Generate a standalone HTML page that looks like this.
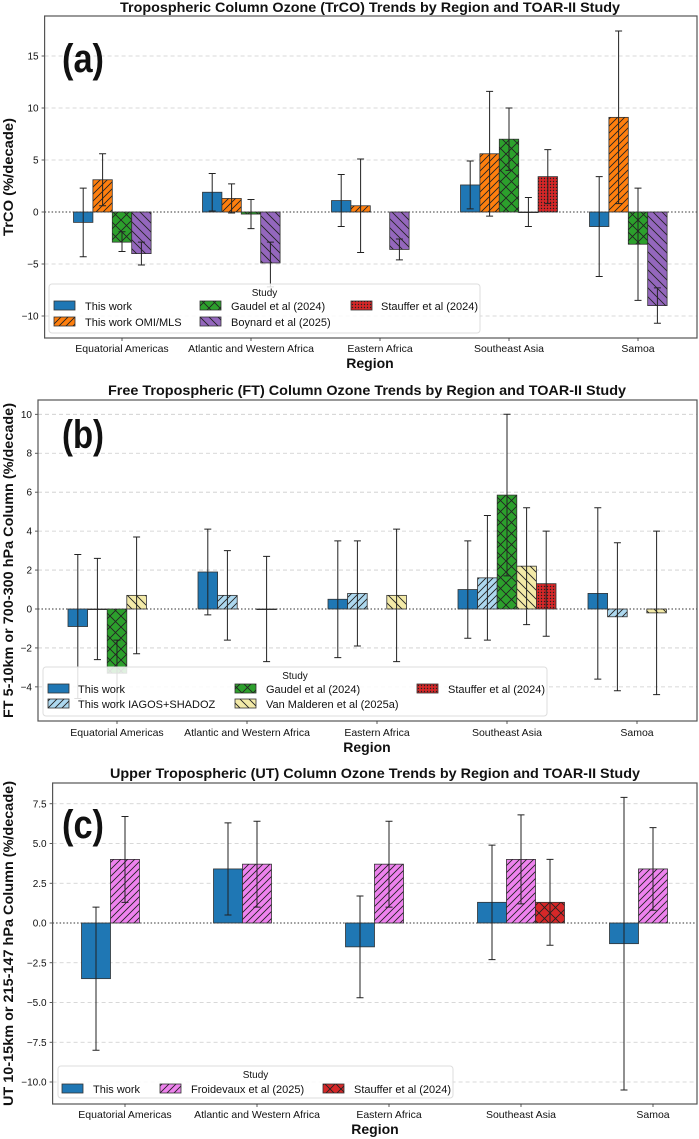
<!DOCTYPE html>
<html><head><meta charset="utf-8"><style>
html,body{margin:0;padding:0;background:#fff;}
svg{display:block;font-family:"Liberation Sans",sans-serif;}
</style></head><body>
<svg id="fig" width="699" height="1139" viewBox="0 0 699 1139" xmlns="http://www.w3.org/2000/svg">
<defs>
<pattern id="h-fwd" patternUnits="userSpaceOnUse" width="7" height="7"><path d="M-1,8 L8,-1 M-1,1 L1,-1 M6,8 L8,6" stroke="#222" stroke-width="0.9"/></pattern>
<pattern id="h-back" patternUnits="userSpaceOnUse" width="9" height="9"><path d="M-1,-1 L10,10 M-1,8 L1,10 M8,-1 L10,1" stroke="#222" stroke-width="0.9"/></pattern>
<pattern id="h-cross" patternUnits="userSpaceOnUse" width="11" height="11"><path d="M-1,-1 L12,12 M-1,12 L12,-1" stroke="#222" stroke-width="0.9"/></pattern>
<pattern id="h-dots" patternUnits="userSpaceOnUse" width="3" height="3"><circle cx="1.5" cy="1.5" r="0.7" fill="#222"/></pattern>
</defs>
</svg>
<script>
// ---------- shared data ----------
const regions = ["Equatorial Americas","Atlantic and Western Africa","Eastern Africa","Southeast Asia","Samoa"];

// Panel (a) TrCO
const aSeries = ["This work","This work OMI/MLS","Gaudel et al (2024)","Boynard et al (2025)","Stauffer et al (2024)"];
const aVals = [
  [-1.0, 1.9, 1.1, 2.6, -1.4],
  [3.1, 1.3, 0.6, 5.6, 9.1],
  [-2.9, -0.2, null, 7.0, -3.1],
  [-4.0, -4.9, -3.6, 0, -9.0],
  [null, null, null, 3.4, null]
];
const aLow = [
  [-4.3, 0.1, -1.4, 0.3, -6.2],
  [0.6, -0.1, -3.9, -0.4, 0.8],
  [-3.8, -1.6, null, 4.0, -8.5],
  [-5.1, -7.2, -4.6, -1.4, -10.7],
  [null, null, null, 0.8, null]
];
const aHigh = [
  [2.3, 3.7, 3.6, 4.9, 3.4],
  [5.6, 2.7, 5.1, 11.6, 17.4],
  [-1.9, 1.2, null, 10.0, 2.3],
  [-2.9, -2.9, -2.6, 1.4, -7.3],
  [null, null, null, 6.0, null]
];
const aTicks = [-10, -5, 0, 5, 10, 15];

// Panel (b) FT
const bSeries = ["This work","This work IAGOS+SHADOZ","Gaudel et al (2024)","Van Malderen et al (2025a)","Stauffer et al (2024)"];
const bVals = [
  [-0.9, 1.9, 0.5, 1.0, 0.8],
  [0, 0.7, 0.8, 1.6, -0.4],
  [-3.3, null, null, 5.85, null],
  [0.7, 0, 0.7, 2.2, -0.2],
  [null, null, null, 1.3, null]
];
const bLow = [
  [-4.6, -0.3, -2.5, -1.5, -3.6],
  [-2.6, -1.6, -1.9, -1.6, -4.2],
  [-4.8, null, null, 1.7, null],
  [-2.3, -2.7, -2.7, -0.8, -4.4],
  [null, null, null, -1.4, null]
];
const bHigh = [
  [2.8, 4.1, 3.5, 3.5, 5.2],
  [2.6, 3.0, 3.5, 4.8, 3.4],
  [-1.6, null, null, 10.0, null],
  [3.7, 2.7, 4.1, 5.2, 4.0],
  [null, null, null, 4.0, null]
];
const bTicks = [-4, -2, 0, 2, 4, 6, 8, 10];

// Panel (c) UT
const cSeries = ["This work","Froidevaux et al (2025)","Stauffer et al (2024)"];
const cVals = [
  [-3.5, 3.4, -1.5, 1.3, -1.3],
  [4.0, 3.7, 3.7, 4.0, 3.4],
  [null, null, null, 1.3, null]
];
const cLow = [
  [-8.0, 0.5, -4.7, -2.3, -10.5],
  [1.3, 1.0, 1.0, 1.2, 0.8],
  [null, null, null, -1.4, null]
];
const cHigh = [
  [1.0, 6.3, 1.7, 4.9, 7.9],
  [6.7, 6.4, 6.4, 6.8, 6.0],
  [null, null, null, 4.0, null]
];
const cTicks = [-10.0, -7.5, -5.0, -2.5, 0.0, 2.5, 5.0, 7.5];

// ---------- drawing ----------
const NS = "http://www.w3.org/2000/svg";
const svg = document.getElementById("fig");
function mk(tag, attrs, parent){
  const e = document.createElementNS(NS, tag);
  for (const k in attrs) e.setAttribute(k, attrs[k]);
  (parent||svg).appendChild(e);
  return e;
}
function txt(parent, x, y, s, size, opts){
  opts = opts||{};
  const t = mk("text", {x:x, y:y, "font-size":size, fill:"#111", "text-anchor":opts.anchor||"middle"}, parent);
  if (opts.bold) t.setAttribute("font-weight","bold");
  if (opts.len){ t.setAttribute("textLength", opts.len); t.setAttribute("lengthAdjust","spacingAndGlyphs"); }
  if (opts.transform) t.setAttribute("transform", opts.transform);
  t.textContent = s;
  return t;
}

function drawPanel(P){
  const g = mk("g", {});
  
  
  const y = v => P.y0 - v * P.ppu;
  const xc = i => P.c0 + i * P.step;
  const tt = txt(g, P.titleX, P.titleY, P.title, 14, {bold:true, len:P.titleLen});
  
  
  P.ticks.forEach(t => {
    if (t !== 0){
      const gl = mk("line", {x1:P.fx0, x2:P.fx1, y1:y(t), y2:y(t), stroke:"#ccc", "stroke-width":0.8, "stroke-dasharray":"4,3"}, g);
      
      
    }
    const tl = txt(g, P.fx0 - 6, y(t) + 3.5, P.fmt(t), 10, {anchor:"end"});
    
    
    mk("line", {x1:P.fx0-3, x2:P.fx0, y1:y(t), y2:y(t), stroke:"#333", "stroke-width":0.8}, g);
  });
  const ns = P.vals.length;
  for (let s = 0; s < ns; s++){
    for (let r = 0; r < regions.length; r++){
      const v = P.vals[s][r];
      if (v === null) continue;
      const cx = xc(r) + (s - P.mid) * P.bw;
      const x0 = cx - P.bw/2;
      const top = Math.min(y(v), y(0)), h = Math.abs(y(v) - y(0));
      const rect = mk("rect", {x:x0, y:top, width:P.bw, height:Math.max(h,0.6), fill:P.colors[s], stroke:"#333", "stroke-width":0.8}, g);
      
      
      if (P.hatch[s]) mk("rect", {x:x0, y:top, width:P.bw, height:Math.max(h,0.6), fill:"url(#"+P.hatch[s]+")", stroke:"none"}, g);
    }
  }
  const zl = mk("line", {x1:P.fx0, x2:P.fx1, y1:y(0), y2:y(0), stroke:"#333", "stroke-width":1, "stroke-dasharray":"1.5,2"}, g);
  
  
  for (let s = 0; s < ns; s++){
    for (let r = 0; r < regions.length; r++){
      if (P.vals[s][r] === null) continue;
      const cx = xc(r) + (s - P.mid) * P.bw;
      const lo = y(P.low[s][r]), hi = y(P.high[s][r]);
      const eb = mk("path", {d:`M${cx},${lo}V${hi}M${cx-3.5},${lo}H${cx+3.5}M${cx-3.5},${hi}H${cx+3.5}`, stroke:"#222", "stroke-width":1, fill:"none"}, g);
      
      
    }
  }
  const pl = txt(g, 62, P.letterY, P.letter, 40, {bold:true, anchor:"start", len:42});
  
  
  const lg = mk("g", {}, g);
  
  
  mk("rect", {x:P.lg.x, y:P.lg.y, width:P.lg.w, height:P.lg.h, rx:3, fill:"#fff", "fill-opacity":0.85, stroke:"#ddd", "stroke-width":1}, lg);
  txt(lg, P.lg.x + P.lg.w/2, P.lg.y + 12, "Study", 10);
  P.series.forEach((name, s) => {
    const col = P.lg.cols[P.lg.place[s][0]], row = P.lg.rows[P.lg.place[s][1]];
    const e = mk("g", {}, lg);
    
    
    mk("rect", {x:col[0], y:row-5, width:21, height:9, fill:P.colors[s], stroke:"#333", "stroke-width":0.8}, e);
    if (P.hatch[s]) mk("rect", {x:col[0], y:row-5, width:21, height:9, fill:"url(#"+P.hatch[s]+")"}, e);
    txt(e, col[1], row+4, name, 11, {anchor:"start"});
  });
  const fr = mk("rect", {x:P.fx0, y:P.fy0, width:P.fx1-P.fx0, height:P.fy1-P.fy0, fill:"none", stroke:"#555", "stroke-width":1.2}, g);
  
  
  regions.forEach((rg, r) => {
    mk("line", {x1:xc(r), x2:xc(r), y1:P.fy1, y2:P.fy1+3, stroke:"#333", "stroke-width":0.8}, g);
    const xl = txt(g, xc(r), P.xlabY, rg, 10.5);
    
    
  });
  const xt = txt(g, P.regionX, P.regionY, "Region", 14, {bold:true});
  
  
  const cy = (P.fy0 + P.fy1)/2;
  const yt = txt(g, 13, cy, P.ytitle, 14, {bold:true, len:P.ytLen, transform:`rotate(-90 13 ${cy})`});
  
  
}

drawPanel({
  name:"panel-a-trco", title:"Tropospheric Column Ozone (TrCO) Trends by Region and TOAR-II Study",
  titleX:370, titleY:12, titleLen:500, letter:"(a)", letterY:72,
  fx0:44.6, fx1:697, fy0:16, fy1:338, y0:212, ppu:10.4,
  c0:122, step:129, bw:19.4, mid:2,
  vals:aVals, low:aLow, high:aHigh, ticks:aTicks, fmt:t=>(t<0?"\u2212"+(-t):""+t),
  series:aSeries, colors:["#1f77b4","#ff7f0e","#2ca02c","#9467bd","#d62728"],
  hatch:[null,"h-fwd","h-cross","h-back","h-dots"],
  lg:{x:49, y:284, w:431, h:49, cols:[[54,85],[200,231],[351,381]], rows:[306,322], place:[[0,0],[0,1],[1,0],[1,1],[2,0]]},
  xlabY:352, regionX:370, regionY:368, ytitle:"TrCO (%/decade)", ytLen:118
});
drawPanel({
  name:"panel-b-ft", title:"Free Tropospheric (FT) Column Ozone Trends by Region and TOAR-II Study",
  titleX:367, titleY:395, titleLen:518, letter:"(b)", letterY:448,
  fx0:38, fx1:697, fy0:400, fy1:721, y0:609, ppu:19.47,
  c0:117, step:130, bw:19.6, mid:2,
  vals:bVals, low:bLow, high:bHigh, ticks:bTicks, fmt:t=>(t<0?"\u2212"+(-t):""+t),
  series:bSeries, colors:["#1f77b4","#add8ef","#2ca02c","#f3eaa8","#d62728"],
  hatch:[null,"h-fwd","h-cross","h-back","h-dots"],
  lg:{x:43, y:667, w:504, h:49, cols:[[48,78],[235,266],[417,448]], rows:[689,704], place:[[0,0],[0,1],[1,0],[1,1],[2,0]]},
  xlabY:736, regionX:367, regionY:752, ytitle:"FT 5-10km or 700-300 hPa Column (%/decade)", ytLen:315
});
drawPanel({
  name:"panel-c-ut", title:"Upper Tropospheric (UT) Column Ozone Trends by Region and TOAR-II Study",
  titleX:375, titleY:778, titleLen:530, letter:"(c)", letterY:838,
  fx0:52.6, fx1:697, fy0:783, fy1:1104, y0:923, ppu:15.9,
  c0:125, step:132, bw:29, mid:1,
  vals:cVals, low:cLow, high:cHigh, ticks:cTicks, fmt:t=>(t<0?"\u2212"+(-t).toFixed(1):t.toFixed(1)),
  series:cSeries, colors:["#1f77b4","#ee82ee","#d62728"],
  hatch:[null,"h-fwd","h-cross"],
  lg:{x:58, y:1066, w:395, h:32, cols:[[62,93],[160,191],[323,354]], rows:[1089], place:[[0,0],[1,0],[2,0]]},
  xlabY:1118, regionX:375, regionY:1134, ytitle:"UT 10-15km or 215-147 hPa Column (%/decade)", ytLen:325
});
</script>
</body></html>
